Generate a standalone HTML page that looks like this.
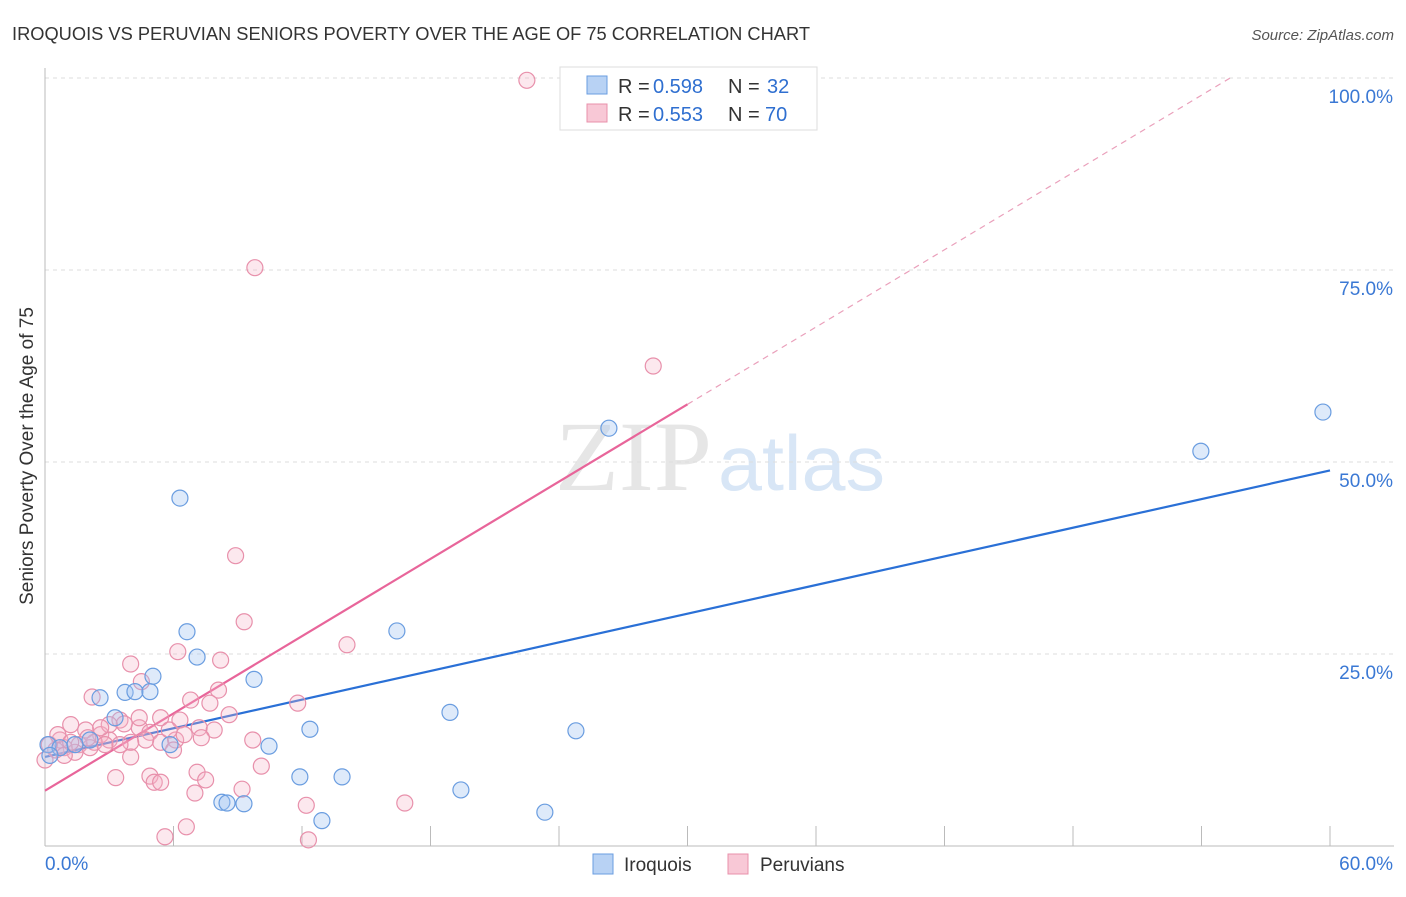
<!DOCTYPE html>
<html><head><meta charset="utf-8"><style>
body{margin:0;background:#fff;font-family:"Liberation Sans",sans-serif;}
</style></head><body>
<svg width="1406" height="892" xmlns="http://www.w3.org/2000/svg" style="font-family:'Liberation Sans',sans-serif">
<text x="12" y="40" font-size="18" fill="#333" textLength="798" lengthAdjust="spacingAndGlyphs">IROQUOIS VS PERUVIAN SENIORS POVERTY OVER THE AGE OF 75 CORRELATION CHART</text>
<text x="1394" y="40" font-size="15" fill="#555" font-style="italic" text-anchor="end">Source: ZipAtlas.com</text>
<text x="712" y="490" font-size="100" fill="#e6e6e6" font-family="Liberation Serif" text-anchor="end" textLength="157" lengthAdjust="spacingAndGlyphs">ZIP</text>
<text x="718" y="490" font-size="78" fill="#d8e6f6" textLength="167" lengthAdjust="spacingAndGlyphs">atlas</text>
<g id="grid"></g><g id="axes"></g><g id="lines"></g><g id="pts"></g>
<text transform="translate(33,456) rotate(-90)" font-size="19" fill="#333" text-anchor="middle">Seniors Poverty Over the Age of 75</text>
<g>
<rect x="560" y="67" width="257" height="63" fill="#fff" stroke="#ddd"/>
<rect x="587" y="76" width="20" height="18" fill="#b8d2f4" stroke="#6a9de0"/>
<text x="618" y="93" font-size="20" fill="#333">R =</text><text x="653" y="93" font-size="20" fill="#2f6fd0">0.598</text>
<text x="728" y="93" font-size="20" fill="#333">N =</text><text x="767" y="93" font-size="20" fill="#2f6fd0">32</text>
<rect x="587" y="104" width="20" height="18" fill="#f8c8d6" stroke="#e890ab"/>
<text x="618" y="121" font-size="20" fill="#333">R =</text><text x="653" y="121" font-size="20" fill="#2f6fd0">0.553</text>
<text x="728" y="121" font-size="20" fill="#333">N =</text><text x="765" y="121" font-size="20" fill="#2f6fd0">70</text>
</g>
<g>
<rect x="593" y="854" width="20" height="20" fill="#b8d2f4" stroke="#6a9de0"/>
<text x="624" y="871" font-size="19" fill="#333">Iroquois</text>
<rect x="728" y="854" width="20" height="20" fill="#f8c8d6" stroke="#e890ab"/>
<text x="760" y="871" font-size="19" fill="#333">Peruvians</text>
</g>
</svg>
<script>
const blueX=[0.14,2.57,3.74,4.2,4.9,5.04,3.27,6.3,6.63,7.1,9.76,5.84,10.46,12.37,11.9,13.87,12.93,8.26,8.5,9.29,16.43,18.91,19.42,23.34,24.79,26.33,53.97,59.67,0.7,1.4,2.1,0.23];
const blueY=[13.2,19.3,20.0,20.1,20.1,22.1,16.7,45.3,27.9,24.6,21.7,13.2,13.0,15.2,9.0,9.0,3.3,5.7,5.6,5.5,28.0,17.4,7.3,4.4,15.0,54.4,51.4,56.5,12.8,13.2,13.8,11.8];
const pinkX=[22.5,9.8,28.4,8.9,9.3,14.1,6.2,8.2,4.0,4.5,2.2,8.1,6.8,7.7,11.8,3.5,5.4,6.3,7.2,7.9,4.4,3.7,4.9,1.2,1.9,2.6,3.0,0.7,0.5,0.9,1.6,2.3,5.4,4.7,6.1,7.3,9.7,4.0,3.3,4.9,5.1,5.4,6.0,7.1,7.5,7.0,9.2,10.1,12.2,16.8,6.6,5.6,12.3,4.0,2.8,2.1,1.4,0.2,0.0,0.6,1.2,6.5,3.0,5.8,3.5,8.6,4.4,2.6,0.9,2.0];
const pinkY=[99.7,75.3,62.5,37.8,29.2,26.2,25.3,24.2,23.7,21.4,19.4,20.3,19.0,18.6,18.6,16.4,16.7,16.4,15.4,15.1,15.4,15.9,14.8,15.8,15.1,14.5,13.8,13.8,12.5,12.8,13.2,13.5,13.5,13.8,13.8,14.1,13.8,11.6,8.9,9.1,8.3,8.3,12.5,9.6,8.6,6.9,7.4,10.4,5.3,5.6,2.5,1.2,0.8,13.5,13.2,12.8,12.2,13.2,11.2,14.5,13.5,14.5,15.8,15.1,13.2,17.1,16.7,15.4,11.8,14.1];
const blueFit=[11.6,0.6217];
const pinkFit=[7.2,1.677];
const yTicks=[25,50,75,100];
const yTickLabels=["25.0%","50.0%","75.0%","100.0%"];
const xTicks=[0,6,12,18,24,30,36,42,48,54,60];
const NS="http://www.w3.org/2000/svg";
const sx=v=>45+v/60*1285, sy=v=>846-v/100*768;
function mk(t,a,p){const e=document.createElementNS(NS,t);for(const k in a)e.setAttribute(k,a[k]);p.appendChild(e);return e;}
const g=document.getElementById('grid'),ax=document.getElementById('axes'),ln=document.getElementById('lines'),pt=document.getElementById('pts');
yTicks.forEach((v,i)=>{
 const l=mk('line',{x1:45,x2:1394,y1:sy(v),y2:sy(v),stroke:'#ddd','stroke-dasharray':'4,4'},g);
 
 
 const t=mk('text',{x:1393,y:sy(v)+25,'font-size':19,fill:'#3a78d4','text-anchor':'end'},ax);
 t.textContent=yTickLabels[i];
 
 
});
const xa=mk('line',{x1:45,x2:1394,y1:846,y2:846,stroke:'#bbb'},ax);


const ya=mk('line',{x1:45,x2:45,y1:68,y2:846,stroke:'#bbb'},ax);


xTicks.forEach(v=>{
 const l=mk('line',{x1:sx(v),x2:sx(v),y1:826,y2:846,stroke:'#bbb'},ax);
 
 
});
const t0=mk('text',{x:45,y:870,'font-size':19,fill:'#3a78d4'},ax);t0.textContent="0.0%";


const t1=mk('text',{x:1393,y:870,'font-size':19,fill:'#3a78d4','text-anchor':'end'},ax);t1.textContent="60.0%";


function dots(X,Y,stroke,fill,name){X.forEach((x,i)=>{
 const c=mk('circle',{cx:sx(x),cy:sy(Y[i]),r:8,fill:fill,stroke:stroke,'stroke-width':1.2},pt);
 
 
});}
dots(pinkX,pinkY,'#e890ab','rgba(245,180,200,0.3)','peruvians-point');
dots(blueX,blueY,'#6a9de0','rgba(160,195,240,0.35)','iroquois-point');
const bl=mk('line',{x1:sx(0),y1:sy(blueFit[0]),x2:sx(60),y2:sy(blueFit[0]+blueFit[1]*60),stroke:'#2a70d6','stroke-width':2.2},ln);


const xEnd=30,xMax=(100-pinkFit[0])/pinkFit[1];
const pl=mk('line',{x1:sx(0),y1:sy(pinkFit[0]),x2:sx(xEnd),y2:sy(pinkFit[0]+pinkFit[1]*xEnd),stroke:'#e8659a','stroke-width':2.2},ln);


const pd=mk('line',{x1:sx(xEnd),y1:sy(pinkFit[0]+pinkFit[1]*xEnd),x2:sx(xMax),y2:sy(100),stroke:'#eaa0bb','stroke-width':1.2,'stroke-dasharray':'6,5'},ln);


</script>
</body></html>
